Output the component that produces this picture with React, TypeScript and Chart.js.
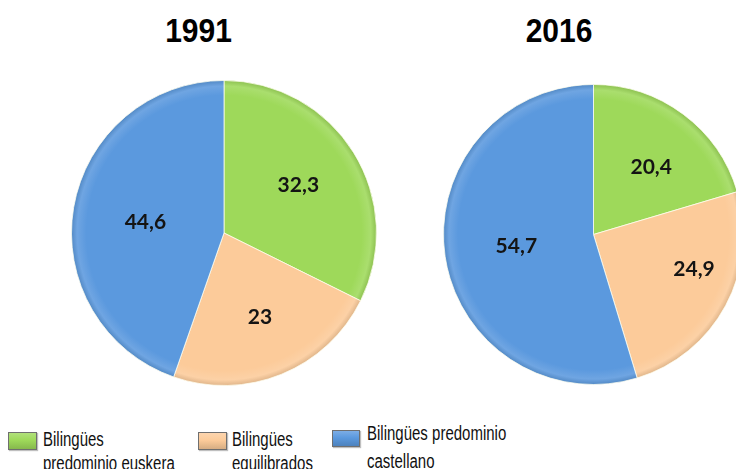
import React, { useEffect, useRef } from 'react';
import { Chart, registerables } from 'chart.js';

Chart.register(...registerables);

// ---- data ----
const categories = ['Bilingües predominio euskera', 'Bilingües equilibrados', 'Bilingües predominio castellano'];
const years = ['1991', '2016'];
const values1991 = [32.3, 23, 44.6];
const values2016 = [20.4, 24.9, 54.7];
const sliceColors = ['#9ED95A', '#FCCB9A', '#5B99DE'];

function mix(hex: string, target: number, amt: number) {
  const n = parseInt(hex.slice(1), 16);
  const r = (n >> 16) & 255, g = (n >> 8) & 255, b = n & 255;
  const f = (c: number) => Math.round(c + (target - c) * amt);
  return `rgb(${f(r)},${f(g)},${f(b)})`;
}

function shadedFill(ctx: any) {
  const base = sliceColors[ctx.dataIndex % sliceColors.length];
  const chart = ctx.chart;
  const a = chart.chartArea;
  if (!a) return base;
  const cx = (a.left + a.right) / 2;
  const cy = (a.top + a.bottom) / 2;
  const r = Math.min(a.right - a.left, a.bottom - a.top) / 2;
  const g = chart.ctx.createRadialGradient(cx, cy, 0, cx, cy, r);
  g.addColorStop(0, base);
  g.addColorStop(0.9, base);
  g.addColorStop(0.96, mix(base, 255, 0.12));
  g.addColorStop(1, mix(base, 0, 0.12));
  return g;
}

const labelPlugin = {
  id: 'sliceLabels',
  afterDatasetsDraw(chart: any, _args: any, opts: any) {
    const ctx = chart.ctx;
    const meta = chart.getDatasetMeta(0);
    const data = chart.data.datasets[0].data as number[];
    ctx.save();
    ctx.font = 'bold 21px Lato, "Open Sans", sans-serif';
    ctx.fillStyle = '#141414';
    ctx.textAlign = 'center';
    ctx.textBaseline = 'middle';
    meta.data.forEach((arc: any, i: number) => {
      const p = arc.getProps(['x', 'y', 'startAngle', 'endAngle', 'outerRadius'], true);
      const shift = ((opts.angleShift?.[i] ?? 0) * Math.PI) / 180;
      const mid = (p.startAngle + p.endAngle) / 2 + shift;
      const rr = p.outerRadius * (opts.radius?.[i] ?? 0.58);
      const x = p.x + Math.cos(mid) * rr;
      const y = p.y + Math.sin(mid) * rr;
      ctx.fillText(String(data[i]).replace('.', ','), x, y);
    });
    ctx.restore();
  },
};

type PieProps = {
  values: number[];
  left: number;
  top: number;
  size: number;
  radius: number[];
  angleShift: number[];
};

function Pie({ values, left, top, size, radius, angleShift }: PieProps) {
  const ref = useRef<HTMLCanvasElement | null>(null);
  useEffect(() => {
    if (!ref.current) return;
    const chart = new Chart(ref.current, {
      type: 'pie',
      data: {
        labels: categories,
        datasets: [
          {
            data: values,
            backgroundColor: shadedFill as any,
            borderColor: 'rgba(255,255,240,0.75)',
            borderWidth: 1,
          },
        ],
      },
      options: {
        responsive: false,
        animation: false,
        layout: { padding: 0 },
        plugins: {
          legend: { display: false },
          tooltip: { enabled: false },
          title: { display: false },
          sliceLabels: { radius, angleShift },
        } as any,
      },
      plugins: [labelPlugin],
    });
    return () => chart.destroy();
  }, []);
  return (
    <canvas
      ref={ref}
      width={size}
      height={size}
      style={{ position: 'absolute', left, top, width: size, height: size }}
    />
  );
}

const titleStyle: React.CSSProperties = {
  position: 'absolute',
  top: 16,
  width: 120,
  textAlign: 'center',
  fontFamily: '"Liberation Sans", Arial, sans-serif',
  fontWeight: 'bold',
  fontSize: 30,
  lineHeight: '30px',
  color: '#000',
  transform: 'scaleY(1.12)',
};

const legendItems = [
  { box: { left: 8, top: 432, width: 29, height: 18 }, text: { left: 43, top: 427, width: 135, lh: 18 } },
  { box: { left: 198, top: 432, width: 29, height: 18 }, text: { left: 232, top: 427, width: 92, lh: 18 } },
  { box: { left: 332, top: 430, width: 28, height: 17 }, text: { left: 367, top: 419, width: 150, lh: 21 } },
];

export default function App() {
  return (
    <div
      style={{
        position: 'fixed',
        left: 0,
        top: 0,
        width: 736,
        height: 469,
        overflow: 'hidden',
        background: '#fff',
      }}
    >
      <div style={{ ...titleStyle, left: 198.5 - 60 }}>{years[0]}</div>
      <div style={{ ...titleStyle, left: 559 - 60 }}>{years[1]}</div>
      <Pie values={values1991} left={71} top={80} size={306} radius={[0.58, 0.6, 0.52]} angleShift={[-1, -1, -2]} />
      <Pie values={values2016} left={443} top={84} size={301} radius={[0.59, 0.71, 0.52]} angleShift={[4, -9, 0]} />
      {categories.map((c, i) => {
        const it = legendItems[i];
        const col = sliceColors[i];
        return (
          <React.Fragment key={c}>
            <div
              style={{
                position: 'absolute',
                left: it.box.left,
                top: it.box.top,
                width: it.box.width,
                height: it.box.height,
                boxSizing: 'border-box',
                border: '1px solid #6f6f6f',
                background: `linear-gradient(to bottom, ${mix(col, 255, 0.2)} 0%, ${col} 45%, ${mix(col, 0, 0.15)} 100%)`,
                boxShadow: '1px 1px 1px rgba(0,0,0,0.25)',
              }}
            />
            <div
              style={{
                position: 'absolute',
                left: it.text.left,
                top: it.text.top,
                width: it.text.width,
                fontFamily: '"Liberation Sans", Arial, sans-serif',
                fontSize: 15,
                lineHeight: `${it.text.lh}px`,
                color: '#111',
                transform: 'scaleY(1.33)',
                transformOrigin: 'top left',
              }}
            >
              {c}
            </div>
          </React.Fragment>
        );
      })}
    </div>
  );
}
